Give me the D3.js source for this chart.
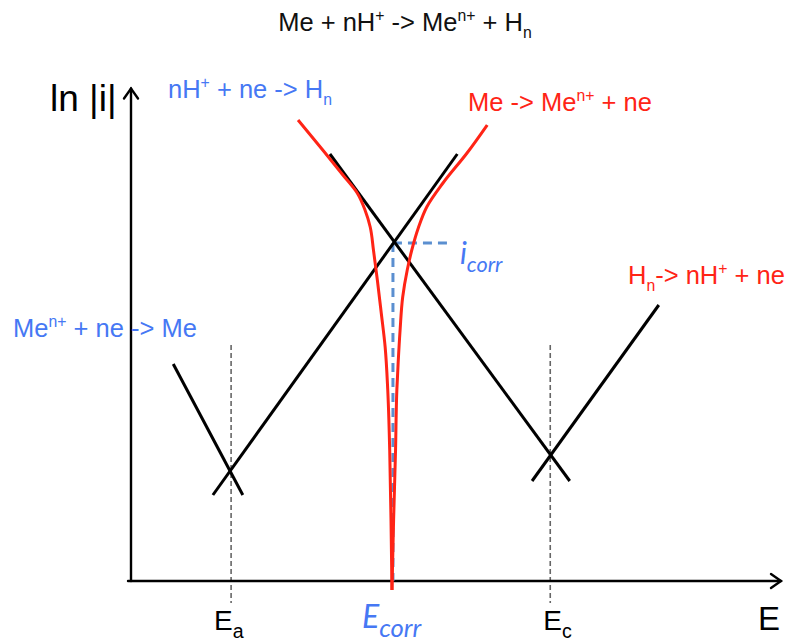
<!DOCTYPE html>
<html>
<head>
<meta charset="utf-8">
<script src="https://cdn.jsdelivr.net/npm/d3@7"></script>
<style>
  html, body { margin: 0; padding: 0; background: #fff; }
  svg { display: block; }
  .sans { font-family: "Liberation Sans", Arial, Helvetica, sans-serif; }
  .ital { font-family: Lato, "Open Sans", sans-serif; font-style: italic; }
</style>
</head>
<body>
<svg id="chart" width="790" height="644"></svg>
<script>
// Evans diagram: potential E against ln|i|, in arbitrary units.
const E_a = 1.54;       // equilibrium potential of the metal couple
const E_c = 6.45;       // equilibrium potential of the hydrogen couple
const E_corr = 4.03;    // mixed (corrosion) potential
const lnIcorr = 6.76;   // ln of the corrosion current

// Tafel lines, each as [E, ln|i|] end points
const metalAnodic = [[1.26, 1.72], [5.02, 8.54]];      // Me -> Me^n+ + ne
const metalCathodic = [[0.65, 4.34], [1.72, 1.72]];    // Me^n+ + ne -> Me
const hydrogenCathodic = [[3.06, 8.54], [6.75, 2.00]]; // nH+ + ne -> Hn
const hydrogenAnodic = [[6.17, 2.00], [8.12, 5.52]];   // Hn -> nH+ + ne

// Measured polarisation curve ln|i_a - i_c|: cathodic branch (below E_corr)
const curveCathodic = [
  [2.57, 9.22], [2.95, 8.62], [3.26, 8.12], [3.48, 7.76], [3.60, 7.42],
  [3.68, 7.08], [3.73, 6.62], [3.79, 6.02], [3.85, 5.36], [3.91, 4.68],
  [3.95, 3.82], [3.98, 2.62], [4.00, 1.22], [4.015, -0.18]
];
// ... and anodic branch (above E_corr)
const curveAnodic = [
  [4.015, -0.18], [4.04, 1.22], [4.07, 2.62], [4.09, 3.82], [4.11, 4.36],
  [4.14, 5.02], [4.18, 5.68], [4.25, 6.22], [4.32, 6.62], [4.42, 7.06],
  [4.55, 7.48], [4.80, 7.96], [5.17, 8.56], [5.48, 9.12]
];

// Vertical extent of the dotted potential markers
const markerRange = [4.72, -0.44];

const svg = d3.select("#chart");
const x = d3.scaleLinear().domain([0, 10]).range([131, 781]);
const y = d3.scaleLinear().domain([0, 10]).range([581, 81]);

const BLUE = "#4678f4";
const RED = "#ff2416";
const line = d3.line().x(d => x(d[0])).y(d => y(d[1]));

// potential markers E_a and E_c
[E_a, E_c].forEach(e => {
  svg.append("line")
    .attr("x1", x(e)).attr("x2", x(e))
    .attr("y1", y(markerRange[0])).attr("y2", y(markerRange[1]))
    .attr("stroke", "#666").attr("stroke-width", 1.6)
    .attr("stroke-dasharray", "5,3");
});

// axes with open arrowheads
const axes = svg.append("g").attr("stroke", "#000").attr("stroke-width", 2.4)
  .attr("fill", "none").attr("stroke-linecap", "round");
const x0 = x(0), y0 = y(0), xEnd = x(10), yEnd = y(9.85);
axes.append("line").attr("x1", x0 - 3).attr("y1", y0).attr("x2", xEnd).attr("y2", y0);
axes.append("line").attr("x1", x0).attr("y1", y0).attr("x2", x0).attr("y2", yEnd);
axes.append("path").attr("d", `M${xEnd - 10},${y0 - 7}L${xEnd},${y0}L${xEnd - 10},${y0 + 7}`);
axes.append("path").attr("d", `M${x0 - 7},${yEnd + 10}L${x0},${yEnd}L${x0 + 7},${yEnd + 10}`);

// corrosion current guide lines
const guide = svg.append("g").attr("stroke", "#5b8fd0").attr("stroke-width", 3)
  .attr("stroke-dasharray", "9,6").attr("fill", "none");
guide.append("line").attr("x1", x(E_corr)).attr("x2", x(E_corr))
  .attr("y1", y(lnIcorr)).attr("y2", y(0));
guide.append("line").attr("x1", x(E_corr)).attr("x2", x(E_corr) + 54)
  .attr("y1", y(lnIcorr)).attr("y2", y(lnIcorr));

// Tafel lines
[metalAnodic, metalCathodic, hydrogenCathodic, hydrogenAnodic].forEach(seg => {
  svg.append("path").attr("d", line(seg))
    .attr("stroke", "#000").attr("stroke-width", 3).attr("fill", "none");
});

// polarisation curve, both branches meeting at E_corr
const smooth = d3.line().x(d => x(d[0])).y(d => y(d[1])).curve(d3.curveMonotoneY);
[curveCathodic, curveAnodic].forEach(branch => {
  svg.append("path").attr("d", smooth(branch))
    .attr("stroke", RED).attr("stroke-width", 3).attr("fill", "none");
});

// helper for text with super/subscripts: parts = [[text, "n"|"sup"|"sub"], ...]
function rich(g, px, py, parts, size, color, cls, anchor, small) {
  const ratio = small || 0.62;
  const t = g.append("text").attr("x", px).attr("y", py)
    .attr("class", cls).attr("font-size", size).attr("fill", color)
    .attr("text-anchor", anchor || "start");
  let shift = 0;
  parts.forEach(([s, kind]) => {
    const target = kind === "sup" ? -0.38 * size : kind === "sub" ? 0.28 * size : 0;
    t.append("tspan").attr("dy", target - shift)
      .attr("font-size", kind === "n" ? size : size * ratio)
      .text(s);
    shift = target;
  });
  return t;
}

const FS = 25.5;
const lab = svg.append("g");
rich(lab, 405, 31, [["Me + nH", "n"], ["+", "sup"], [" -> Me", "n"], ["n+", "sup"], [" + H", "n"], ["n", "sub"]], FS, "#111", "sans", "middle");
rich(lab, 168, 98, [["nH", "n"], ["+", "sup"], [" + ne -> H", "n"], ["n", "sub"]], FS, BLUE, "sans");
rich(lab, 468, 111, [["Me -> Me", "n"], ["n+", "sup"], [" + ne", "n"]], FS, RED, "sans");
rich(lab, 628, 284, [["H", "n"], ["n", "sub"], ["-> nH", "n"], ["+", "sup"], [" + ne", "n"]], FS, RED, "sans");
rich(lab, 13, 337, [["Me", "n"], ["n+", "sup"], [" + ne -> Me", "n"]], FS, BLUE, "sans");
lab.append("text").attr("x", 50).attr("y", 111).attr("class", "sans")
  .attr("font-size", 37).attr("fill", "#000").text("ln |i|");

// axis labels
rich(lab, x(E_a) - 17, 630, [["E", "n"], ["a", "sub"]], 28, "#000", "sans", "start", 0.7);
rich(lab, x(E_c) - 7, 630, [["E", "n"], ["c", "sub"]], 28, "#000", "sans", "start", 0.7);
rich(lab, x(10) - 23, 630, [["E", "n"]], 33, "#000", "sans");
rich(lab, x(E_corr) - 31, 628, [["E", "n"], ["corr", "sub"]], 32, BLUE, "ital", "start", 0.8);
rich(lab, x(E_corr) + 67, 264, [["i", "n"], ["corr", "sub"]], 30, BLUE, "ital", "start", 0.72);
</script>
</body>
</html>
